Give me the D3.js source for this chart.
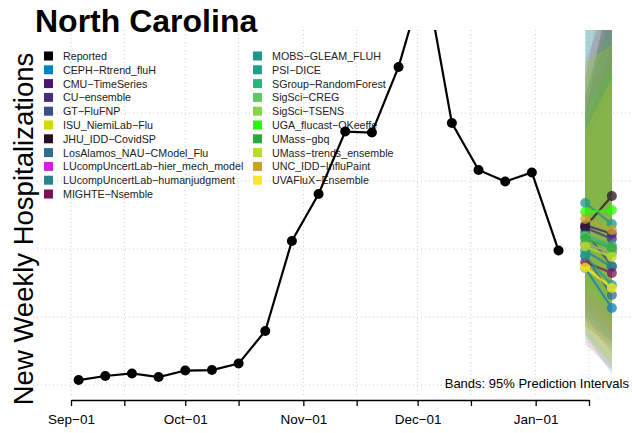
<!DOCTYPE html>
<html>
<head>
<meta charset="utf-8">
<script src="https://cdn.jsdelivr.net/npm/d3@7"></script>
<style>
body { margin: 0; background: #fff; }
svg { font-family: "Liberation Sans", Arial, sans-serif; }
</style>
</head>
<body>
<div id="chart"></div>
<script>
// reported weekly hospitalizations (Saturdays)
const reportedDates = ["2022-09-03","2022-09-10","2022-09-17","2022-09-24","2022-10-01","2022-10-08","2022-10-15",
  "2022-10-22","2022-10-29","2022-11-05","2022-11-12","2022-11-19","2022-11-26","2022-12-03","2022-12-10",
  "2022-12-17","2022-12-24","2022-12-31","2023-01-07"];
const reportedValues = [29, 53, 68, 47, 85, 88, 126, 318, 847, 1124, 1491, 1485, 1871, 2412, 1541, 1265, 1197, 1250, 791];

const models = ["CEPH\u2212Rtrend_fluH","CMU\u2212TimeSeries","CU\u2212ensemble","GT\u2212FluFNP","ISU_NiemiLab\u2212Flu",
  "JHU_IDD\u2212CovidSP","LosAlamos_NAU\u2212CModel_Flu","LUcompUncertLab\u2212hier_mech_model","LUcompUncertLab\u2212humanjudgment",
  "MIGHTE\u2212Nsemble","MOBS\u2212GLEAM_FLUH","PSI\u2212DICE","SGroup\u2212RandomForest","SigSci\u2212CREG","SigSci\u2212TSENS",
  "UGA_flucast\u2212OKeeffe","UMass\u2212gbq","UMass\u2212trends_ensemble","UNC_IDD\u2212InfluPaint","UVAFluX\u2212Ensemble"];
const modelColors = ["#0c7fc0","#4b1470","#462c7f","#3d4e8a","#d4da04","#2a0f24","#2d6e8e","#d21fe0","#26838f",
  "#7e0f5a","#1f968b","#1fa088","#2cb57c","#5dc962","#86d549","#22ff00","#2da63a","#b5de2b","#c9a227","#fde725"];

const forecastDates = ["2023-01-14","2023-01-21"];
const median1 = [688, 940, 925, 900, 700, 930, 760, 830, 790, 724, 1071, 760, 880, 870, 830, 1018, 860, 815, 976, 690];
const median2 = [453, 890, 860, 700, 575, 1112, 529, 780, 694, 659, 947, 588, 820, 800, 780, 1029, 805, 753, 912, 571];
const lower1 = [300, 520, 450, 400, 350, 600, 400, 240, 380, 350, 600, 420, 500, 300, 260, 550, 480, 280, 500, 330];
const lower2 = [60, 380, 300, 250, 200, 500, 180, 90, 250, 220, 400, 260, 350, 120, 80, 450, 340, 100, 300, 150];
const upper1 = [1500, 1700, 1800, 1600, 1400, 1600, 2300, 1900, 1700, 1500, 2200, 2400, 1500, 1800, 1900, 1600, 1700, 1900, 1800, 1500];
const upper2 = [1900, 2300, 2600, 2200, 1700, 2400, 2900, 2300, 2300, 2000, 3000, 3300, 1900, 2100, 2000, 1900, 2200, 2000, 2400, 1800];

const tickDates = ["2022-09-01","2022-09-15","2022-10-01","2022-10-15","2022-11-01","2022-11-15",
  "2022-12-01","2022-12-15","2023-01-01","2023-01-15"];
const tickLabels = ["Sep\u221201","","Oct\u221201","","Nov\u221201","","Dec\u221201","","Jan\u221201",""];
const yGrid = [0, 400, 800, 1200, 1600];

const width = 632, height = 433;
const plot = {left: 33, right: 632, top: 30, bottom: 398};

const svg = d3.select("#chart").append("svg")
  .attr("width", width).attr("height", height);

const x = d3.scaleUtc()
  .domain([new Date(tickDates[0]), new Date(tickDates[tickDates.length - 1])])
  .range([71, 589]);
const y = d3.scaleLinear().domain([0, 1600]).range([385, 113]);

svg.append("defs").append("clipPath").attr("id", "clip")
  .append("rect")
  .attr("x", plot.left).attr("y", plot.top)
  .attr("width", plot.right - plot.left).attr("height", plot.bottom - plot.top);

// grid
const grid = svg.append("g").attr("stroke", "#c8c8c8").attr("stroke-dasharray", "1,3").attr("stroke-width", 1);
grid.selectAll(".vg").data(tickDates).join("line")
  .attr("x1", d => x(new Date(d))).attr("x2", d => x(new Date(d)))
  .attr("y1", plot.top).attr("y2", plot.bottom);
grid.selectAll(".hg").data(yGrid).join("line")
  .attr("x1", plot.left).attr("x2", plot.right)
  .attr("y1", d => y(d)).attr("y2", d => y(d));

// title + y label
svg.append("text").attr("x", 35).attr("y", 32)
  .attr("font-size", 32).attr("font-weight", "bold").attr("fill", "#000")
  .text("North Carolina");
svg.append("text")
  .attr("transform", "translate(33,229) rotate(-90)")
  .attr("text-anchor", "middle").attr("font-size", 27.5).attr("fill", "#000")
  .text("New Weekly Hospitalizations");

// legend
const legendNames = ["Reported", ...models];
const legendColors = ["#000", ...modelColors];
const legend = svg.append("g").attr("font-size", 10.7);
const leg = legend.selectAll("g").data(legendNames).join("g")
  .attr("transform", (d, i) => i < 11
    ? `translate(44,${56 + i * 13.8})`
    : `translate(253,${56 + (i - 11) * 13.8})`);
leg.append("rect").attr("x", 0).attr("y", -4.5).attr("width", 9).attr("height", 9)
  .attr("fill", (d, i) => legendColors[i]);
leg.append("text").attr("x", 19).attr("y", 4).attr("fill", "#222").text(d => d);

// x axis
const axis = svg.append("g")
  .attr("transform", "translate(0,400)")
  .call(d3.axisBottom(x)
    .tickValues(tickDates.map(d => new Date(d)))
    .tickFormat((d, i) => tickLabels[i])
    .tickSize(6).tickSizeOuter(0).tickPadding(8));
axis.selectAll("path,line").attr("stroke", "#000").attr("stroke-width", 1.3);
axis.selectAll("text").attr("font-size", 13.5).attr("fill", "#000")
  .attr("font-family", "Liberation Sans, Arial, sans-serif");

const data = svg.append("g").attr("clip-path", "url(#clip)");

// prediction bands
const fd = forecastDates.map(d => new Date(d));
const area = d3.area().x(d => x(d.date)).y0(d => y(d.lo)).y1(d => y(d.hi));
data.append("g").selectAll("path").data(models).join("path")
  .attr("d", (m, i) => area([
    {date: fd[0], lo: lower1[i], hi: upper1[i]},
    {date: fd[1], lo: lower2[i], hi: upper2[i]}]))
  .attr("fill", (m, i) => modelColors[i])
  .attr("fill-opacity", 0.15);

// model forecasts
const line = d3.line().x(d => x(d.date)).y(d => y(d.v));
const fc = data.append("g").selectAll("g").data(models).join("g")
  .attr("opacity", 0.75);
fc.append("path")
  .attr("d", (m, i) => line([{date: fd[0], v: median1[i]}, {date: fd[1], v: median2[i]}]))
  .attr("stroke", (m, i) => modelColors[i]).attr("stroke-width", 2.2).attr("fill", "none");
fc.selectAll("circle").data((m, i) => [{date: fd[0], v: median1[i], c: modelColors[i]}, {date: fd[1], v: median2[i], c: modelColors[i]}])
  .join("circle")
  .attr("cx", d => x(d.date)).attr("cy", d => y(d.v)).attr("r", 5)
  .attr("fill", d => d.c);

// reported
const rep = reportedDates.map((d, i) => ({date: new Date(d), v: reportedValues[i]}));
data.append("path").datum(rep)
  .attr("d", line).attr("fill", "none").attr("stroke", "#000").attr("stroke-width", 2.2);
data.append("g").selectAll("circle").data(rep).join("circle")
  .attr("cx", d => x(d.date)).attr("cy", d => y(d.v)).attr("r", 5).attr("fill", "#000");

svg.append("text").attr("x", 629).attr("y", 388).attr("text-anchor", "end")
  .attr("font-size", 13).attr("fill", "#000")
  .text("Bands: 95% Prediction Intervals");
</script>
</body>
</html>
